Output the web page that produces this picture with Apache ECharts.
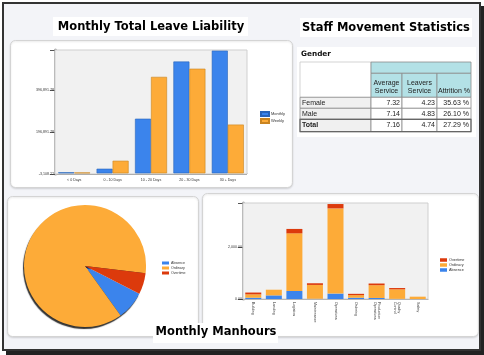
<!DOCTYPE html>
<html>
<head>
<meta charset="utf-8">
<script src="https://cdn.jsdelivr.net/npm/echarts@6/dist/echarts.min.js"></script>
<style>
html,body{margin:0;padding:0;background:#ffffff;}
#c{width:484px;height:355px;}
</style>
</head>
<body>
<div id="c"></div>
<script>
// ---------- DATA ----------
const leaveCategories = ['< 0 Days', '0 - 10 Days', '10 - 20 Days', '20 - 30 Days', '30 + Days'];
const leaveMonthly = [5000, 22000, 260000, 532000, 584000];
const leaveWeekly = [4000, 60000, 459000, 498000, 232000];
const leaveAxisMin = -3108.22;
const leaveAxisStep = 200000;
const leaveAxisMax = 587000;

const pieNames = ['Absence', 'Ordinary', 'Overtime'];
const pieValues = [7.6, 86.8, 5.6];

const mhCategories = ['Building', 'Landing', 'Logistics', 'Maintenance', 'Operations', 'Ordering', 'Production Operations', 'Quality Control', 'Safety'];
const mhAbsence = [50, 140, 310, 10, 210, 50, 40, 5, 0];
const mhOrdinary = [130, 220, 2235, 535, 3300, 100, 495, 370, 90];
const mhOvertime = [70, 0, 170, 65, 170, 50, 65, 50, 0];
const mhAxisStep = 2000;
const mhAxisMax = 3720;

const tableTitle = 'Gender';
const tableCols = ['Average\nService', 'Leavers\nService', 'Attrition %'];
const tableRows = ['Female', 'Male', 'Total'];
const avgService = [7.32, 7.14, 7.16];
const leaversService = [4.23, 4.83, 4.74];
const attritionPct = [35.63, 26.10, 27.29];

const titles = ['Monthly Total Leave Liability', 'Staff Movement Statistics', 'Monthly Manhours'];

// ---------- COLOURS ----------
const BLUE = '#3b84ec', ORANGE = '#fdab38', RED = '#dc3a0c';
const TITLE_FONT = 'bold 11.5px "DejaVu Sans"';

function fmt2(v) {
  return v.toLocaleString('en-US', {minimumFractionDigits: 2, maximumFractionDigits: 2});
}

// ---------- GRAPHICS (frame, panels, titles, table) ----------
const g = [];
g.push({type: 'rect', z: -100, shape: {x: 6, y: 6, width: 478, height: 349}, style: {fill: '#222'}});
g.push({type: 'rect', z: -99, shape: {x: 3, y: 3, width: 477, height: 347}, style: {fill: '#f3f4f8', stroke: '#333', lineWidth: 2}});
const panels = [[10, 40, 282, 147], [7, 196, 191, 140], [202, 193, 276, 143]];
panels.forEach(p => g.push({type: 'rect', z: -98, shape: {x: p[0] + 0.5, y: p[1] + 0.5, width: p[2], height: p[3], r: 5},
  style: {fill: '#ffffff', stroke: '#d4d4d4', lineWidth: 1, shadowBlur: 2, shadowColor: 'rgba(0,0,0,0.12)', shadowOffsetY: 1}}));
g.push({type: 'rect', z: -97, shape: {x: 297, y: 47, width: 179, height: 90}, style: {fill: '#ffffff'}});

const titleBoxes = [[53, 17, 195, 19, 151, 27.5], [300, 18, 172, 19, 386, 28], [153, 323, 125, 20, 216, 332]];
titleBoxes.forEach((b, i) => {
  g.push({type: 'rect', z: 50, shape: {x: b[0], y: b[1], width: b[2], height: b[3]}, style: {fill: '#ffffff'}});
  g.push({type: 'text', z: 51, style: {text: titles[i], x: b[4], y: b[5], font: TITLE_FONT, fill: '#000',
    align: 'center', verticalAlign: 'middle', textAlign: 'center', textVerticalAlign: 'middle'}});
});

const colX = [300, 371, 402, 437, 471];
const rowY = [62, 73.3, 97.3, 108.3, 119.3, 131.7];
const LINE = '#8c8c8c';
g.push({type: 'text', z: 10, style: {text: tableTitle, x: 301, y: 54.5, font: 'bold 7.3px "DejaVu Sans"', fill: '#111',
  align: 'left', verticalAlign: 'middle', textAlign: 'left', textVerticalAlign: 'middle'}});
g.push({type: 'rect', z: 5, shape: {x: colX[0], y: rowY[0], width: colX[1] - colX[0], height: rowY[2] - rowY[0]}, style: {fill: '#fff', stroke: '#c8c8c8', lineWidth: 0.8}});
g.push({type: 'rect', z: 5, shape: {x: colX[1], y: rowY[0], width: colX[4] - colX[1], height: rowY[1] - rowY[0]}, style: {fill: '#b3e1e6', stroke: LINE, lineWidth: 0.8}});
for (let c = 0; c < 3; c++) {
  g.push({type: 'rect', z: 5, shape: {x: colX[c + 1], y: rowY[1], width: colX[c + 2] - colX[c + 1], height: rowY[2] - rowY[1]}, style: {fill: '#b3e1e6', stroke: LINE, lineWidth: 0.8}});
  g.push({type: 'text', z: 6, style: {text: tableCols[c], x: (colX[c + 1] + colX[c + 2]) / 2, y: rowY[2] - 2.5, font: '7px "Liberation Sans"', fill: '#222',
    lineHeight: 8, align: 'center', verticalAlign: 'bottom', textAlign: 'center', textVerticalAlign: 'bottom'}});
}
const colsData = [avgService, leaversService, attritionPct];
tableRows.forEach((r, ri) => {
  const y0 = rowY[ri + 2], y1 = rowY[ri + 3];
  const bold = r === 'Total';
  g.push({type: 'rect', z: 5, shape: {x: colX[0], y: y0, width: colX[1] - colX[0], height: y1 - y0}, style: {fill: '#f0f0f0', stroke: LINE, lineWidth: 0.8}});
  g.push({type: 'text', z: 6, style: {text: r, x: colX[0] + 2, y: (y0 + y1) / 2, font: (bold ? 'bold ' : '') + '7px "Liberation Sans"', fill: '#222',
    align: 'left', verticalAlign: 'middle', textAlign: 'left', textVerticalAlign: 'middle'}});
  for (let c = 0; c < 3; c++) {
    g.push({type: 'rect', z: 5, shape: {x: colX[c + 1], y: y0, width: colX[c + 2] - colX[c + 1], height: y1 - y0}, style: {fill: '#fff', stroke: LINE, lineWidth: 0.8}});
    const v = colsData[c][ri];
    const txt = c === 2 ? v.toFixed(2) + ' %' : v.toFixed(2);
    g.push({type: 'text', z: 6, style: {text: txt, x: colX[c + 2] - 2, y: (y0 + y1) / 2, font: '7px "Liberation Sans"', fill: '#222',
      align: 'right', verticalAlign: 'middle', textAlign: 'right', textVerticalAlign: 'middle'}});
  }
});
g.push({type: 'rect', z: 7, shape: {x: colX[0], y: rowY[4], width: colX[4] - colX[0], height: rowY[5] - rowY[4]}, style: {fill: 'none', stroke: '#666', lineWidth: 1.2}});

// ---------- CHART ----------
const tiny = {fontSize: 3.6, color: '#333', fontFamily: 'Liberation Sans'};
const pieColors = [BLUE, ORANGE, RED];
const pieShadow = [true, true, false];
const option = {
  animation: false,
  graphic: {elements: g},
  grid: [
    {left: 55, top: 50, width: 192, height: 124, show: true, backgroundColor: '#f1f1f1', borderColor: '#cfcfcf', borderWidth: 1, z: 1},
    {left: 243, top: 203, width: 185, height: 96, show: true, backgroundColor: '#f1f1f1', borderColor: '#cfcfcf', borderWidth: 1, z: 1}
  ],
  legend: [
    {data: ['Monthly', 'Weekly'], orient: 'vertical', left: 260, top: 111, itemWidth: 8, itemHeight: 4, itemGap: 1, icon: 'rect',
      textStyle: {fontSize: 4, color: '#333', padding: [0, 0, 0, -3]}, padding: 0},
    {data: pieNames, orient: 'vertical', left: 162, top: 261, itemWidth: 7, itemHeight: 3, itemGap: 1, icon: 'rect',
      textStyle: {fontSize: 3.6, color: '#333', padding: [0, 0, 0, -3]}, padding: 0},
    {data: ['Overtime', 'Ordinary', 'Absence'], orient: 'vertical', left: 440, top: 258, itemWidth: 7, itemHeight: 3.5, itemGap: 1, icon: 'rect',
      textStyle: {fontSize: 3.8, color: '#333', padding: [0, 0, 0, -3]}, padding: 0}
  ],
  xAxis: [
    {type: 'category', gridIndex: 0, data: leaveCategories,
      axisLine: {lineStyle: {color: '#9a9a9a', width: 1}}, axisTick: {alignWithLabel: true, length: 3, lineStyle: {color: '#777'}},
      axisLabel: Object.assign({margin: 4, interval: 0}, tiny)},
    {type: 'category', gridIndex: 1, data: mhCategories,
      axisLine: {lineStyle: {color: '#9a9a9a', width: 1}}, axisTick: {alignWithLabel: true, length: 3, lineStyle: {color: '#777'}},
      axisLabel: Object.assign({margin: 3, interval: 0, rotate: -90, formatter: v => v.replace(' ', '\n'), lineHeight: 4}, tiny)}
  ],
  yAxis: [
    {type: 'value', gridIndex: 0, min: leaveAxisMin, max: leaveAxisMax, interval: leaveAxisStep,
      axisLine: {show: true, lineStyle: {color: '#a8a8a8', width: 3}},
      axisTick: {show: true, length: 5, lineStyle: {color: '#555'}},
      axisLabel: Object.assign({margin: 1, formatter: v => {
        const k = Math.round((v - leaveAxisMin) / leaveAxisStep);
        const t = leaveAxisMin + k * leaveAxisStep;
        return Math.abs(v - t) < 2 ? fmt2(t) : '';
      }}, tiny),
      splitLine: {show: true, lineStyle: {color: '#8a8a8a', width: 1}},
      minorTick: {show: false, splitNumber: 5},
      minorSplitLine: {show: true, lineStyle: {color: '#d4d4d4', width: 1}}},
    {type: 'value', gridIndex: 1, min: 0, max: mhAxisMax, interval: mhAxisStep,
      axisLine: {show: true, lineStyle: {color: '#a8a8a8', width: 3}},
      axisTick: {show: true, length: 5, lineStyle: {color: '#555'}},
      axisLabel: Object.assign({margin: 1, formatter: v => (v % mhAxisStep === 0 ? fmt2(v) : '')}, tiny),
      splitLine: {show: true, lineStyle: {color: '#8a8a8a', width: 1}},
      minorTick: {show: false, splitNumber: 5},
      minorSplitLine: {show: true, lineStyle: {color: '#d4d4d4', width: 1}}}
  ],
  series: [
    {name: 'Monthly', type: 'bar', xAxisIndex: 0, yAxisIndex: 0, data: leaveMonthly, barWidth: 16, barGap: '0%',
      itemStyle: {color: BLUE, borderColor: '#2a64b8', borderWidth: 0.6}},
    {name: 'Weekly', type: 'bar', xAxisIndex: 0, yAxisIndex: 0, data: leaveWeekly, barWidth: 16, barGap: '0%',
      itemStyle: {color: ORANGE, borderColor: '#c98420', borderWidth: 0.6}},
    {name: 'Absence', type: 'bar', stack: 'mh', xAxisIndex: 1, yAxisIndex: 1, data: mhAbsence, barWidth: 16,
      itemStyle: {color: BLUE}},
    {name: 'Ordinary', type: 'bar', stack: 'mh', xAxisIndex: 1, yAxisIndex: 1, data: mhOrdinary, barWidth: 16,
      itemStyle: {color: ORANGE}},
    {name: 'Overtime', type: 'bar', stack: 'mh', xAxisIndex: 1, yAxisIndex: 1, data: mhOvertime, barWidth: 16,
      itemStyle: {color: RED}},
    {name: 'Hours', type: 'pie', center: [85, 266], radius: 61, startAngle: -27, clockwise: true,
      data: pieNames.map((n, i) => ({name: n, value: pieValues[i],
        itemStyle: pieShadow[i] ? {shadowColor: 'rgba(0,0,0,0.8)', shadowBlur: 1, shadowOffsetX: -1, shadowOffsetY: 2} : {}})),
      color: pieColors,
      label: {show: false}, labelLine: {show: false},
      itemStyle: {borderWidth: 0}}
  ]
};
const chart = echarts.init(document.getElementById('c'), null, {renderer: 'canvas'});
chart.setOption(option);
</script>
</body>
</html>
